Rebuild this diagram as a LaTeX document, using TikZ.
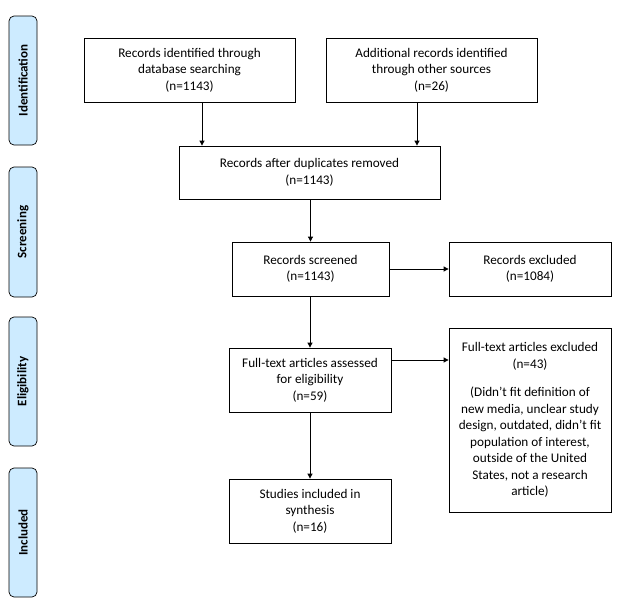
\documentclass[tikz,border=0pt]{standalone}
\usepackage{fontspec}
\setmainfont{Carlito}
\usetikzlibrary{arrows.meta}
\definecolor{sidebar}{HTML}{CDEBFF}
\begin{document}
\begin{tikzpicture}[x=1pt,y=-1pt,
  every node/.style={font=\fontsize{13.2}{16.5}\selectfont},
  box/.style={draw, line width=0.8pt, align=center, inner sep=2pt},
  stage/.style={draw, line width=0.7pt, fill=sidebar, rounded corners=5pt, minimum width=28pt, inner sep=0pt},
  stagetxt/.style={rotate=90, font=\fontsize{13}{14}\selectfont\bfseries},
  arr/.style={line width=0.8pt, -{Triangle[length=5pt,width=5pt]}}]
\useasboundingbox (0,0) rectangle (622,613);
% stage bars
\node[stage, minimum height=129pt] (s1) at (23,80.5) {};
\node[stagetxt] (t1) at (s1) {Identification};
\node[stage, minimum height=130pt] (s2) at (23,232) {};
\node[stagetxt] (t2) at (s2) {Screening};
\node[stage, minimum height=129pt] (s3) at (23,381.5) {};
\node[stagetxt] (t3) at (s3) {Eligibility};
\node[stage, minimum height=129pt] (s4) at (23,532.5) {};
\node[stagetxt] (t4) at (s4) {Included};
% boxes
\node[box, minimum width=211pt, minimum height=64pt] (db) at (189.5,70) {Records identified through\\database searching\\(n=1143)};
\node[box, minimum width=211pt, minimum height=64pt] (oth) at (431.5,70) {Additional records identified\\through other sources\\(n=26)};
\node[box, minimum width=261pt, minimum height=53pt] (dup) at (309.5,172.5) {Records after duplicates removed\\(n=1143)};
\node[box, minimum width=157pt, minimum height=54pt] (scr) at (310.5,269) {Records screened\\(n=1143)};
\node[box, minimum width=162pt, minimum height=54pt] (exc) at (530,269) {Records excluded\\(n=1084)};
\node[box, minimum width=162pt, minimum height=64pt] (ft) at (310,380) {Full-text articles assessed\\for eligibility\\(n=59)};
\node[box, minimum width=162pt, minimum height=184pt] (ftx) at (530,420) {Full-text articles excluded\\(n=43)\\[12pt](Didn’t fit definition of\\new media, unclear study\\design, outdated, didn’t fit\\population of interest,\\outside of the United\\States, not a research\\article)};
\node[box, minimum width=162pt, minimum height=64pt] (inc) at (310,511) {Studies included in\\synthesis\\(n=16)};
% arrows
\draw[arr] (db.south -| 202,0) -- (dup.north -| 202,0);
\draw[arr] (oth.south -| 417,0) -- (dup.north -| 417,0);
\draw[arr] (dup.south -| scr.north) -- (scr.north);
\draw[arr] (scr.east) -- (exc.west);
\draw[arr] (scr.south -| 310,0) -- (ft.north -| 310,0);
\draw[arr] (ft.east |- 0,360) -- (ftx.west |- 0,360);
\draw[arr] (ft.south) -- (inc.north);
\end{tikzpicture}
\end{document}
